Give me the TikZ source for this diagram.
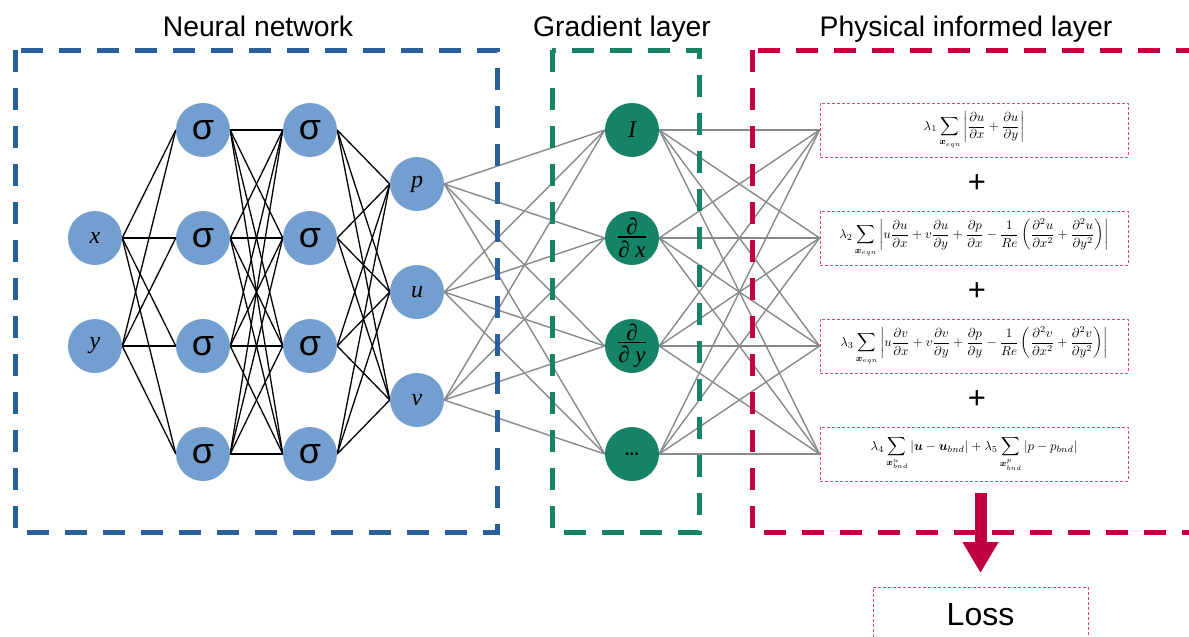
\documentclass[tikz,border=0pt]{standalone}
\usepackage{fontspec}
\setmainfont{Liberation Sans}
\newfontfamily\lserif{Liberation Serif}
\usepackage{amsmath,bm,graphicx}
\usetikzlibrary{arrows.meta}
\pgfdeclarelayer{background}
\pgfsetlayers{background,main}

\definecolor{nnblue}{RGB}{42,96,153}
\definecolor{nodeblue}{RGB}{114,159,207}
\definecolor{gradgreen}{RGB}{21,132,102}
\definecolor{physred}{RGB}{193,0,67}
\definecolor{eqpink}{RGB}{226,70,122}
\definecolor{wiregray}{RGB}{137,137,137}

\newcommand{\eqs}[1]{\scalebox{1.3}{$\displaystyle #1$}}
\newcommand{\pd}[2]{\frac{\partial #1}{\partial #2}}
% partial-derivative operator label: ∂ over "∂ var"
\newcommand{\gradop}[1]{{\fontsize{23}{23}\lserif\itshape
  \vbox{\halign{\hfil##\hfil\cr ∂\cr\noalign{\kern1pt\hrule height 1.4pt\kern3pt}∂ #1\cr}}}}

\tikzset{
  neuron/.style={circle, fill=nodeblue, minimum size=54pt, inner sep=0pt},
  gradnode/.style={circle, fill=gradgreen, minimum size=54pt, inner sep=0pt},
  sig/.style={font=\fontsize{36}{36}\selectfont},
  var/.style={font=\fontsize{24}{24}\lserif\itshape},
  layerbox/.style={line width=5pt, dash pattern=on 22pt off 16pt},
  title/.style={font=\fontsize{28.3}{30}\selectfont, anchor=base},
  eqbox/.style={draw=eqpink, line width=0.9pt, dash pattern=on 3pt off 2pt,
                minimum width=308pt, minimum height=54pt, inner sep=0pt},
  wire/.style={black, line width=1.3pt},
  gwire/.style={wiregray, line width=1.4pt},
  plus/.style={font=\fontsize{31}{31}\selectfont},
  bigarrow/.style={physred, line width=12pt, -{Triangle[width=34pt, length=31pt]}},
}

\begin{document}
\begin{tikzpicture}[x=1pt, y=-1pt]
\useasboundingbox (0,0) rectangle (1189,637);

% titles
\node[title] (tnn) at (258,36) {Neural network};
\node[title] (tgrad) at (622,36) {Gradient layer};
\node[title] (tphys) at (966,36) {Physical informed layer};

% inputs
\node[neuron,var] (x) at (95,238) {x};
\node[neuron,var] (y) at (95,346) {y};

% hidden layers
\foreach \i/\yy in {1/130,2/238,3/346,4/454} {
  \node[neuron,sig] (a\i) at (203,\yy) {σ};
  \node[neuron,sig] (b\i) at (310,\yy) {σ};
}

% outputs
\node[neuron,var] (p) at (417,184) {p};
\node[neuron,var] (u) at (417,292) {u};
\node[neuron,var] (v) at (417,400) {v};

% gradient layer
\node[gradnode,var] (g1) at (632,130) {I};
\node[gradnode] (g2) at (632,238) {\gradop{x}};
\node[gradnode] (g3) at (632,346) {\gradop{y}};
\node[gradnode, font=\fontsize{17}{17}\selectfont\bfseries] (g4) at (632,454) {...};

% physics terms
\node[eqbox] (e1) at (974,130)
  {\eqs{\lambda_1 \sum_{\bm{x}_{eqn}} \left|\pd{u}{x}+\pd{u}{y}\right|}};
\node[eqbox] (e2) at (974,238)
  {\eqs{\lambda_2 \sum_{\bm{x}_{eqn}} \left|u\pd{u}{x}+v\pd{u}{y}+\pd{p}{x}-\frac{1}{Re}\left(\frac{\partial^2 u}{\partial x^2}+\frac{\partial^2 u}{\partial y^2}\right)\right|}};
\node[eqbox] (e3) at (974,346)
  {\eqs{\lambda_3 \sum_{\bm{x}_{eqn}} \left|u\pd{v}{x}+v\pd{v}{y}+\pd{p}{y}-\frac{1}{Re}\left(\frac{\partial^2 v}{\partial x^2}+\frac{\partial^2 v}{\partial y^2}\right)\right|}};
\node[eqbox] (e4) at (974,454)
  {\eqs{\lambda_4 \sum_{\bm{x}^{u}_{bnd}} |\bm{u}-\bm{u}_{bnd}| + \lambda_5 \sum_{\bm{x}^{p}_{bnd}} |p-p_{bnd}|}};

\node[plus] (plus1) at (977,184) {+};
\node[plus] (plus2) at (977,292) {+};
\node[plus] (plus3) at (977,400) {+};

% loss
\node[eqbox, anchor=north, minimum width=215pt, minimum height=0pt,
      text height=38pt, text depth=45pt, font=\fontsize{32}{32}\selectfont]
  (loss) at (980.5,587) {Loss};

% connections
\begin{pgfonlayer}{background}
\foreach \s in {x,y}
  \foreach \t in {1,...,4}
    \draw[wire] (\s.east) -- (a\t.west);
\foreach \s in {1,...,4}
  \foreach \t in {1,...,4}
    \draw[wire] (a\s.east) -- (b\t.west);
\foreach \s in {1,...,4}
  \foreach \t in {p,u,v}
    \draw[wire] (b\s.east) -- (\t.west);
\foreach \s in {p,u,v}
  \foreach \t in {1,...,4}
    \draw[gwire] (\s.east) -- (g\t.west);
\foreach \s in {1,...,4}
  \foreach \t in {1,...,4}
    \draw[gwire] (g\s.east) -- (e\t.west);
\end{pgfonlayer}

% layer frames
\draw[layerbox, nnblue] (15,50) rectangle (497,532);
\draw[layerbox, gradgreen] (552,50) rectangle (699,532);
\draw[layerbox, physred] (752,50) rectangle (1215,532);

% total loss arrow
\draw[bigarrow] ([yshift=94pt]loss.north) -- ([yshift=14pt]loss.north);
\end{tikzpicture}
\end{document}
